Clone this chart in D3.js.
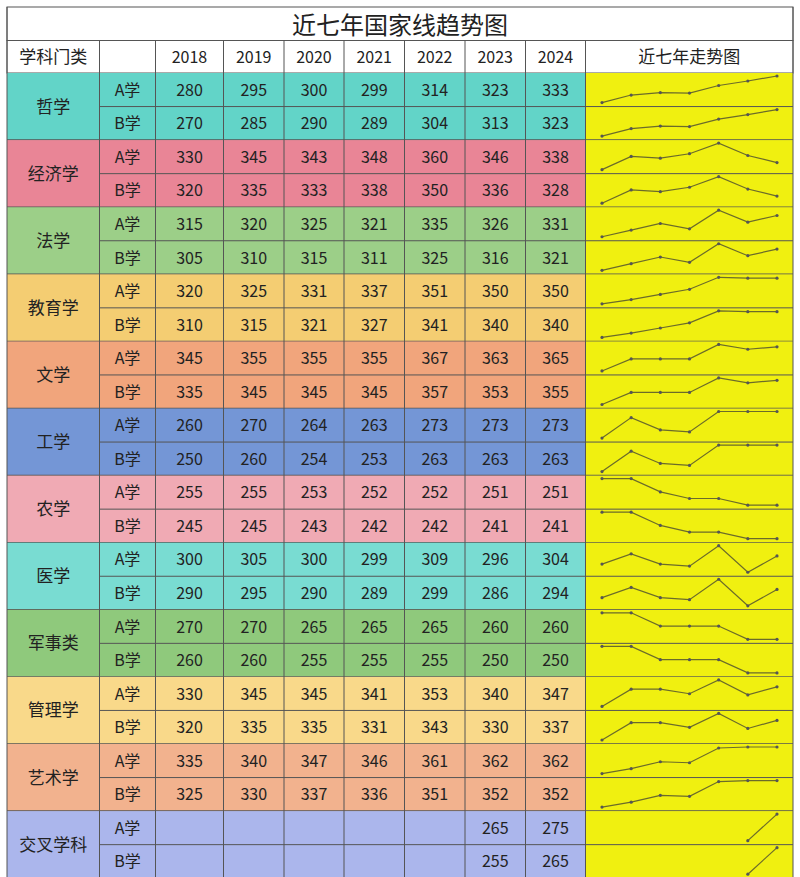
<!DOCTYPE html>
<html><head><meta charset="utf-8">
<script src="https://cdn.jsdelivr.net/npm/d3@7"></script>
<style>body{margin:0;background:#fff}text{font-family:"Noto Sans CJK SC","Noto Sans",sans-serif}</style>
</head><body><svg id="c" width="800" height="877"></svg>
<script>
const title = "近七年国家线趋势图";
const years = ["2018","2019","2020","2021","2022","2023","2024"];
const categories = ["哲学","经济学","法学","教育学","文学","工学","农学","医学","军事类","管理学","艺术学","交叉学科"];
const catColors = ["#62d4c8","#e98596","#9ccf88","#f4cd72","#f1a57c","#7496d6","#f0aab4","#79dcd2","#8fc97c","#f9d98a","#f2b28e","#abb6ec"];
const valuesA = [
 [280,295,300,299,314,323,333],[330,345,343,348,360,346,338],[315,320,325,321,335,326,331],
 [320,325,331,337,351,350,350],[345,355,355,355,367,363,365],[260,270,264,263,273,273,273],
 [255,255,253,252,252,251,251],[300,305,300,299,309,296,304],[270,270,265,265,265,260,260],
 [330,345,345,341,353,340,347],[335,340,347,346,361,362,362],[null,null,null,null,null,265,275]];
const valuesB = [
 [270,285,290,289,304,313,323],[320,335,333,338,350,336,328],[305,310,315,311,325,316,321],
 [310,315,321,327,341,340,340],[335,345,345,345,357,353,355],[250,260,254,253,263,263,263],
 [245,245,243,242,242,241,241],[290,295,290,289,299,286,294],[260,260,255,255,255,250,250],
 [320,335,335,331,343,330,337],[325,330,337,336,351,352,352],[null,null,null,null,null,255,265]];

(function(){
const svg = d3.select("#c");
const L=7,R=793,T=7,hdrTop=40.5,dataTop=73,rowH=33.55;
const colX=[L,99.5,155.5,223.5,284,344,404.5,465,525.5,585.5,R];
const line="#555";
svg.append("rect").attr("x",L).attr("y",T).attr("width",R-L).attr("height",hdrTop-T).attr("fill","#fff").attr("stroke",line);
svg.append("text").attr("x",400).attr("y",34).attr("text-anchor","middle").attr("font-size",24).attr("fill","#222").text(title);
svg.append("rect").attr("x",L).attr("y",hdrTop).attr("width",R-L).attr("height",dataTop-hdrTop).attr("fill","#fff").attr("stroke",line);
const hdr=["学科门类",""].concat(years,["近七年走势图"]);
hdr.forEach((h,i)=>{
  svg.append("text").attr("x",(colX[i]+colX[i+1])/2).attr("y",63).attr("text-anchor","middle").attr("font-size",i>=2&&i<=8?16:17).attr("fill","#222").text(h);
  if(i>0) svg.append("line").attr("x1",colX[i]).attr("x2",colX[i]).attr("y1",hdrTop).attr("y2",dataTop).attr("stroke",line);
});
const sx=d3.scalePoint().domain(years).range([602,777]);
categories.forEach((cat,ci)=>{
  const y0=dataTop+ci*2*rowH;
  svg.append("rect").attr("x",L).attr("y",y0).attr("width",colX[9]-L).attr("height",2*rowH).attr("fill",catColors[ci]);
  svg.append("rect").attr("x",colX[9]).attr("y",y0).attr("width",R-colX[9]).attr("height",2*rowH).attr("fill","#f0f010");
  svg.append("text").attr("x",(colX[0]+colX[1])/2).attr("y",y0+rowH+6).attr("text-anchor","middle").attr("font-size",17).attr("fill","#222").text(cat);
  [valuesA[ci],valuesB[ci]].forEach((vals,ri)=>{
    const ry=y0+ri*rowH;
    svg.append("text").attr("x",(colX[1]+colX[2])/2).attr("y",ry+rowH/2+6).attr("text-anchor","middle").attr("font-size",16).attr("fill","#222").text(ri?"B学":"A学");
    vals.forEach((v,yi)=>{ if(v!=null) svg.append("text").attr("x",(colX[yi+2]+colX[yi+3])/2).attr("y",ry+rowH/2+6).attr("text-anchor","middle").attr("font-size",16).attr("fill","#222").text(v);});
    const pts=years.map((yr,i)=>({yr,v:vals[i]})).filter(d=>d.v!=null);
    const ext=d3.extent(pts,d=>d.v);
    const sy=d3.scaleLinear().domain(ext).range([ry+rowH-4,ry+3]);
    svg.append("path").attr("d",d3.line().x(d=>sx(d.yr)).y(d=>sy(d.v))(pts)).attr("fill","none").attr("stroke","#6b6b2a").attr("stroke-width",1.2);
    svg.selectAll(null).data(pts).enter().append("circle").attr("cx",d=>sx(d.yr)).attr("cy",d=>sy(d.v)).attr("r",1.6).attr("fill","#555");
    if(ri==1) svg.append("line").attr("x1",colX[1]).attr("x2",R).attr("y1",ry).attr("y2",ry).attr("stroke",line);
  });
  svg.append("line").attr("x1",L).attr("x2",R).attr("y1",y0+2*rowH).attr("y2",y0+2*rowH).attr("stroke",line).attr("stroke-width",1.5);
});
const bottom=dataTop+24*rowH;
for(let i=1;i<colX.length-1;i++) svg.append("line").attr("x1",colX[i]).attr("x2",colX[i]).attr("y1",dataTop).attr("y2",bottom).attr("stroke",line);
[L,R].forEach(x=>svg.append("line").attr("x1",x).attr("x2",x).attr("y1",T).attr("y2",bottom).attr("stroke",line));
})();
</script></body></html>
